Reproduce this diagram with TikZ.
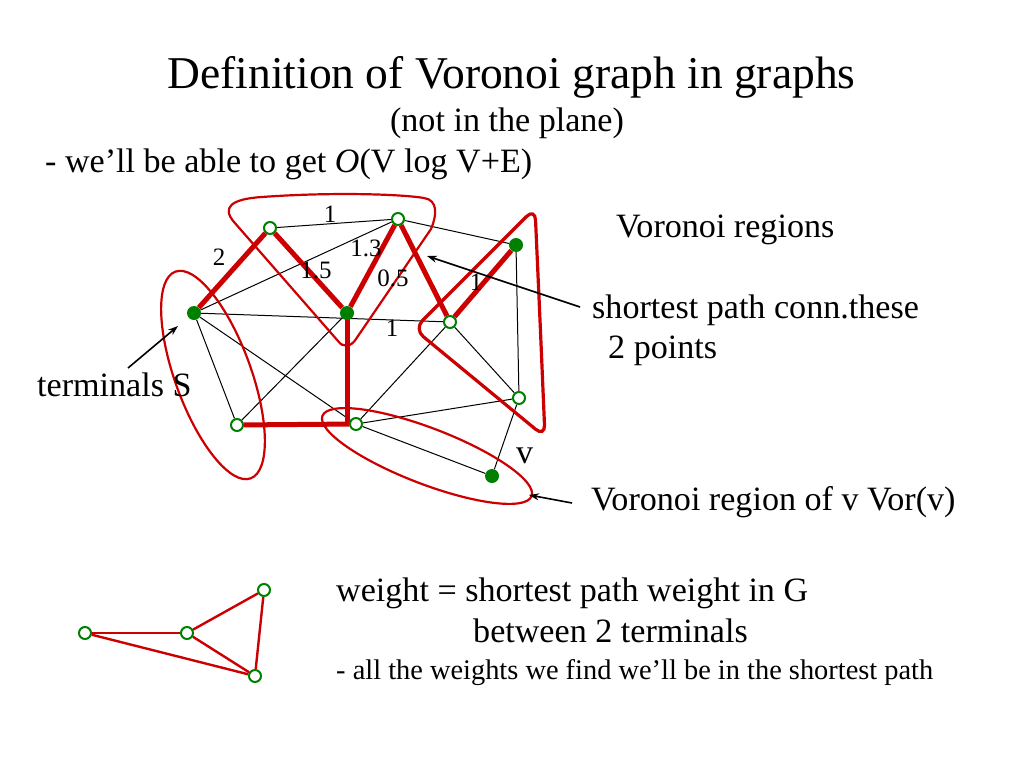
\documentclass[tikz,border=0pt]{standalone}
\usepackage{fontspec}
\setmainfont{Liberation Serif}
\usetikzlibrary{arrows.meta}
\definecolor{vred}{RGB}{204,0,0}
\definecolor{vgreen}{RGB}{0,128,0}
\pgfdeclarelayer{bg}
\pgfsetlayers{bg,main}
\begin{document}
\begin{tikzpicture}[x=1pt,y=-1pt,
  open/.style={circle,draw=vgreen,fill=white,line width=2pt,minimum size=12pt,inner sep=0pt},
  term/.style={circle,fill=vgreen,minimum size=14pt,inner sep=0pt},
  gedge/.style={draw=black,line width=1pt},
  spath/.style={draw=vred,line width=5pt},
  region/.style={draw=vred,line width=2.2pt},
  redge/.style={draw=vred,line width=2.4pt},
  ptr/.style={draw=black,line width=1.6pt,-{Stealth[length=10pt,width=7pt]}},
  big/.style={font=\fontsize{45.5}{50}\selectfont},
  body/.style={font=\fontsize{34.1}{40}\selectfont},
  note/.style={font=\fontsize{28.4}{32}\selectfont},
  wlabel/.style={font=\fontsize{25}{27}\selectfont,inner sep=0pt},
  txt/.style={anchor=base west,inner sep=0pt}]
\useasboundingbox (0,0) rectangle (1024,768);

% texts
\node[big,anchor=base,inner sep=0pt] (title) at (511.5,88) {Definition of Voronoi graph in graphs};
\node[body,anchor=base,inner sep=0pt] (sub) at (507,131) {(not in the plane)};
\node[txt,body] (l1) at (45,172) {- we’ll be able to get \textit{O}(V log V+E)};
\node[txt,body] (vr) at (616,237) {Voronoi regions};
\node[txt,body] (sp) at (592,318) {shortest path conn.these};
\node[txt,body] (tp) at (608,358) {2 points};
\node[txt,body] (ts) at (37,396) {terminals S};
\node[txt,body] (vv) at (516,463) {v};
\node[txt,body] (vor) at (591,510) {Voronoi region of v Vor(v)};
\node[txt,body] (wt) at (336,601) {weight = shortest path weight in G};
\node[txt,body] (bt) at (473,642) {between 2 terminals};
\node[txt,note] (al) at (336,679) {- all the weights we find we’ll be in the shortest path};

% graph vertices
\node[term] (A) at (194,313) {};
\node[open] (B) at (270,228) {};
\node[open] (C) at (398,219) {};
\node[term] (D) at (347,313) {};
\node[term] (E) at (516,245) {};
\node[open] (F) at (450,322) {};
\node[open] (G) at (237,425) {};
\node[open] (H) at (356,424) {};
\node[open] (I) at (519,398) {};
\node[term] (J) at (492,476) {};

% weights
\node[wlabel] (w1) at (330,214) {1};
\node[wlabel] (w2) at (219,257) {2};
\node[wlabel] (w3) at (316,270) {1.5};
\node[wlabel] (w4) at (366,248) {1.3};
\node[wlabel] (w5) at (393,278) {0.5};
\node[wlabel] (w6) at (476,282) {1};
\node[wlabel] (w7) at (392,328) {1};

% small graph
\node[open] (P1) at (85,633) {};
\node[open] (P2) at (187,633) {};
\node[open] (P3) at (264,590) {};
\node[open] (P4) at (255,676) {};

% arrow ends
\coordinate (t1) at (128,368); \coordinate (h1) at (178,326);
\coordinate (t2) at (580,307); \coordinate (h2) at (427,256);
\coordinate (t3) at (572,503); \coordinate (h3) at (529,495);

\begin{pgfonlayer}{bg}
  % thin edges
  \draw[gedge] (B) -- (C);
  \draw[gedge] (A) -- (C);
  \draw[gedge] (C) -- (E);
  \draw[gedge] (A) -- (F);
  \draw[gedge] (A) -- (G);
  \draw[gedge] (A) -- (H);
  \draw[gedge] (D) -- (G);
  \draw[gedge] (F) -- (H);
  \draw[gedge] (F) -- (I);
  \draw[gedge] (E) -- (I);
  \draw[gedge] (H) -- (I);
  \draw[gedge] (H) -- (J);
  \draw[gedge] (I) -- (J);
  % regions
  \draw[region, rotate around={20:(213,375)}] (213,375) ellipse [x radius=38, y radius=110];
  \draw[region, rotate around={-21:(427,456)}] (427,456) ellipse [x radius=112, y radius=28];
  \draw[region] (234,222) .. controls (222,208) and (230,199) .. (262,197)
     .. controls (330,192) and (400,194) .. (424,198)
     .. controls (438,200) and (437,215) .. (431,229)
     -- (356,339) .. controls (351,347) and (343,348) .. (338,341) -- cycle;
  \draw[region, line width=3.2pt, rounded corners=12pt] (540,320) -- (545,437) -- (414,329) -- (535,208) -- cycle;
  % shortest paths
  \draw[spath] (A) -- (B);
  \draw[spath] (B) -- (D);
  \draw[spath] (D) -- (C);
  \draw[spath] (C) -- (F);
  \draw[spath] (F) -- (E);
  \draw[spath] (D.center) -- (D.center |- H.west);
  \draw[spath] (G) -- (H);
  % small graph edges
  \draw[redge] (P1) -- (P2);
  \draw[redge] (P1) -- (P4);
  \draw[redge] (P2) -- (P3);
  \draw[redge] (P2) -- (P4);
  \draw[redge] (P3) -- (P4);
\end{pgfonlayer}

% pointers
\draw[ptr] (t1) -- (h1);
\draw[ptr] (t2) -- (h2);
\draw[ptr] (t3) -- (h3);
\end{tikzpicture}
\end{document}
